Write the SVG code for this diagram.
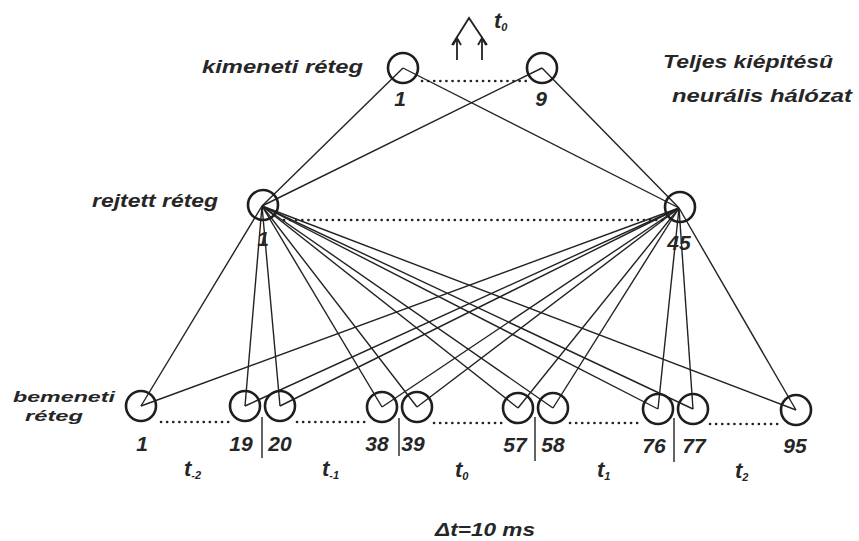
<svg xmlns="http://www.w3.org/2000/svg" width="859" height="541" viewBox="0 0 859 541">
<defs>
<style>
.n{fill:none;stroke:#1e1e1e;stroke-width:2.6}
.c line{stroke:#222;stroke-width:1.4}
.d{stroke:#222;stroke-width:2.6;stroke-linecap:round;stroke-dasharray:0.1 6;fill:none}
.s{stroke:#222;stroke-width:1.4}
text{font-family:"Liberation Sans",Arial,sans-serif;font-style:italic;font-weight:bold;fill:#262626}
.lab{font-size:18px}
.lab2{font-size:15.5px}
.num{font-size:21px;text-anchor:middle}
.t{font-size:22px}
.sub{font-size:11px}
</style>
</defs>
<rect width="859" height="541" fill="#fff"/>
<g id="connectors" class="c">
<line x1="403" y1="68" x2="262" y2="206"/>
<line x1="403" y1="68" x2="679" y2="208"/>
<line x1="542" y1="68" x2="262" y2="206"/>
<line x1="542" y1="68" x2="679" y2="208"/>
<line x1="262" y1="206" x2="141" y2="406"/>
<line x1="262" y1="206" x2="245" y2="406"/>
<line x1="262" y1="206" x2="280" y2="406"/>
<line x1="262" y1="206" x2="382" y2="407"/>
<line x1="262" y1="206" x2="417" y2="407"/>
<line x1="262" y1="206" x2="518" y2="408"/>
<line x1="262" y1="206" x2="553" y2="408"/>
<line x1="262" y1="206" x2="658" y2="409"/>
<line x1="262" y1="206" x2="693" y2="409"/>
<line x1="262" y1="206" x2="796" y2="410"/>
<line x1="679" y1="208" x2="141" y2="406"/>
<line x1="679" y1="208" x2="245" y2="406"/>
<line x1="679" y1="208" x2="280" y2="406"/>
<line x1="679" y1="208" x2="382" y2="407"/>
<line x1="679" y1="208" x2="417" y2="407"/>
<line x1="679" y1="208" x2="518" y2="408"/>
<line x1="679" y1="208" x2="553" y2="408"/>
<line x1="679" y1="208" x2="658" y2="409"/>
<line x1="679" y1="208" x2="693" y2="409"/>
<line x1="679" y1="208" x2="796" y2="410"/>
</g>
<g id="dots">
<line class="d" x1="422" y1="81" x2="528" y2="81"/>
<line class="d" x1="284" y1="220" x2="664" y2="220"/>
<line class="d" x1="161" y1="422" x2="230" y2="422"/>
<line class="d" x1="297" y1="422" x2="366" y2="422"/>
<line class="d" x1="434" y1="423" x2="503" y2="423"/>
<line class="d" x1="570" y1="423" x2="643" y2="423"/>
<line class="d" x1="710" y1="424" x2="780" y2="424"/>
</g>
<g id="separators">
<line class="s" x1="262" y1="417" x2="262" y2="458"/>
<line class="s" x1="399" y1="418" x2="399" y2="456"/>
<line class="s" x1="535" y1="417" x2="535" y2="461"/>
<line class="s" x1="674" y1="418" x2="674" y2="462"/>
</g>
<g id="output-arrow" fill="none" stroke="#222" stroke-width="1.8">
<polyline points="452,45 469,18 487,45"/>
<line x1="457" y1="60" x2="457" y2="38"/>
<polyline points="453,45 457,38 461,45"/>
<line x1="482" y1="60" x2="482" y2="38"/>
<polyline points="478,45 482,38 486,45"/>
</g>
<text class="t" x="494" y="28">t<tspan class="sub" dy="3">0</tspan></text>
<g id="out1"><circle class="n" cx="403" cy="68" r="15"/><text class="num" x="400" y="106">1</text></g>
<g id="out9"><circle class="n" cx="542" cy="68" r="15"/><text class="num" x="541" y="106">9</text></g>
<g id="hid1"><circle class="n" cx="263" cy="205" r="15"/><text class="num" x="263" y="246">1</text></g>
<g id="hid45"><circle class="n" cx="680" cy="207" r="15"/><text class="num" x="679" y="250">45</text></g>
<g id="in1"><circle class="n" cx="141" cy="406" r="15"/><text class="num" x="142" y="451">1</text></g>
<g id="in19"><circle class="n" cx="245" cy="406" r="15"/><text class="num" x="241" y="451">19</text></g>
<g id="in20"><circle class="n" cx="280" cy="406" r="15"/><text class="num" x="280" y="451">20</text></g>
<g id="in38"><circle class="n" cx="382" cy="407" r="15"/><text class="num" x="377" y="451">38</text></g>
<g id="in39"><circle class="n" cx="417" cy="407" r="15"/><text class="num" x="413" y="451">39</text></g>
<g id="in57"><circle class="n" cx="518" cy="408" r="15"/><text class="num" x="515" y="452">57</text></g>
<g id="in58"><circle class="n" cx="553" cy="408" r="15"/><text class="num" x="553" y="452">58</text></g>
<g id="in76"><circle class="n" cx="658" cy="409" r="15"/><text class="num" x="654" y="453">76</text></g>
<g id="in77"><circle class="n" cx="693" cy="409" r="15"/><text class="num" x="694" y="453">77</text></g>
<g id="in95"><circle class="n" cx="796" cy="410" r="15"/><text class="num" x="795" y="453">95</text></g>
<g id="labels">
<text class="lab" x="202" y="73" textLength="161" lengthAdjust="spacingAndGlyphs">kimeneti réteg</text>
<text class="lab" x="92" y="207" textLength="126" lengthAdjust="spacingAndGlyphs">rejtett réteg</text>
<text class="lab2" x="13" y="402" textLength="102" lengthAdjust="spacingAndGlyphs">bemeneti</text>
<text class="lab2" x="25" y="421" textLength="58" lengthAdjust="spacingAndGlyphs">réteg</text>
<text class="lab" x="663" y="68" textLength="170" lengthAdjust="spacingAndGlyphs">Teljes kiépitésû</text>
<text class="lab" x="672" y="102" textLength="180" lengthAdjust="spacingAndGlyphs">neurális hálózat</text>
<text class="t" x="184" y="476">t<tspan class="sub" dy="3">-2</tspan></text>
<text class="t" x="322" y="476">t<tspan class="sub" dy="3">-1</tspan></text>
<text class="t" x="455" y="477">t<tspan class="sub" dy="3">0</tspan></text>
<text class="t" x="597" y="477">t<tspan class="sub" dy="3">1</tspan></text>
<text class="t" x="735" y="478">t<tspan class="sub" dy="3">2</tspan></text>
<text class="lab" x="435" y="536" textLength="100" lengthAdjust="spacingAndGlyphs">Δt=10 ms</text>
</g>
</svg>
